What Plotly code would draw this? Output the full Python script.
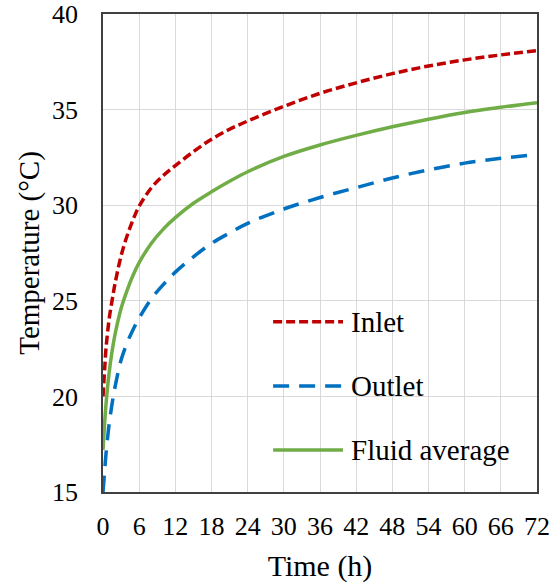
import plotly.graph_objects as go

# Time after start (h)
time_h = [0, 0.25, 0.5, 1, 1.5, 2, 3, 4, 5, 6, 8, 10, 12, 15, 18, 21, 24,
          30, 36, 42, 48, 54, 60, 66, 72]

# Temperatures (°C)
inlet = [20.0, 21.3, 22.5, 24.0, 25.0, 25.9, 27.35, 28.4, 29.25, 29.95, 30.9,
         31.55, 32.07, 32.8, 33.45, 33.97, 34.4, 35.17, 35.85, 36.4, 36.88,
         37.28, 37.6, 37.86, 38.08]
outlet = [15.0, 16.0, 17.0, 18.5, 19.6, 20.5, 21.9, 22.8, 23.5, 24.1, 25.1,
          25.85, 26.5, 27.3, 28.0, 28.55, 29.05, 29.8, 30.4, 30.92, 31.42,
          31.85, 32.2, 32.45, 32.65]
fluid_avg = [17.2, 18.5, 19.6, 21.2, 22.35, 23.25, 24.6, 25.55, 26.35, 27.0,
             28.0, 28.75, 29.35, 30.1, 30.7, 31.25, 31.75, 32.55, 33.15, 33.65,
             34.1, 34.5, 34.85, 35.12, 35.36]

series_names = ["Inlet", "Outlet", "Fluid average"]
series_colors = ["#C00000", "#0070C0", "#70AD47"]
series_dash = ["9px,4px", "16px,10px", "solid"]
series_values = [inlet, outlet, fluid_avg]

x_ticks = list(range(0, 73, 6))
y_ticks = [15, 20, 25, 30, 35, 40]

FONT = "Liberation Serif"

fig = go.Figure()
for name, vals, col, dash in zip(series_names, series_values, series_colors, series_dash):
    fig.add_trace(go.Scatter(
        x=time_h, y=vals, name=name, mode="lines",
        line=dict(color=col, width=3.5, dash=dash, shape="spline", smoothing=1.0),
        showlegend=False,
    ))

# Legend drawn inside the plot area: sample line + label per series
leg_y = [0.356, 0.222, 0.088]
for name, col, dash, yy in zip(series_names, series_colors, series_dash, leg_y):
    fig.add_shape(type="line", xref="paper", yref="paper",
                  x0=0.392, x1=0.553, y0=yy, y1=yy,
                  line=dict(color=col, width=3.5, dash=dash))
    fig.add_annotation(xref="paper", yref="paper", x=0.566, y=yy,
                       text=name, showarrow=False, xanchor="left", yanchor="middle",
                       font=dict(family=FONT, size=29, color="black"))

axis_common = dict(
    showgrid=True, gridcolor="#D9D9D9", gridwidth=1.3,
    showline=True, linecolor="#404040", linewidth=1.5, mirror=True,
    zeroline=False, ticks="",
    tickfont=dict(family=FONT, size=26, color="black"),
)

fig.update_xaxes(
    range=[0, 72], tickvals=x_ticks, ticktext=[str(v) for v in x_ticks],
    title=dict(text="Time (h)", font=dict(family=FONT, size=30, color="black"), standoff=15),
    ticklabelstandoff=10,
    **axis_common,
)
fig.update_yaxes(
    range=[15, 40], tickvals=y_ticks,
    title=dict(text="Temperature (°C)", font=dict(family=FONT, size=29, color="black"), standoff=4),
    ticklabelstandoff=18,
    **axis_common,
)

fig.update_layout(
    width=554, height=586,
    margin=dict(l=103, r=17, t=14, b=94, autoexpand=False),
    plot_bgcolor="white", paper_bgcolor="white",
    font=dict(family=FONT, color="black"),
)

fig.write_html("out.html")
